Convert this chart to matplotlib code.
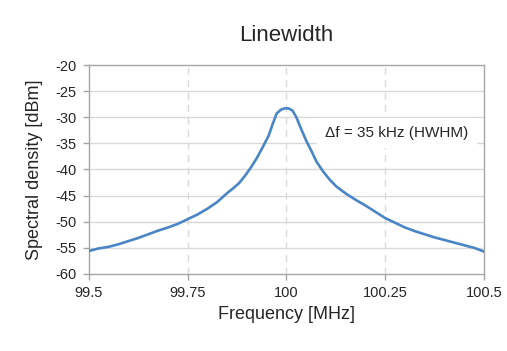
import matplotlib
matplotlib.use("Agg")
import matplotlib.pyplot as plt

plt.rcParams['font.family'] = ['Liberation Sans', 'DejaVu Sans']

freq_mhz = [99.500, 99.525, 99.550, 99.575, 99.600, 99.625, 99.650, 99.675, 99.700, 99.725,
            99.750, 99.775, 99.800, 99.825, 99.850, 99.865, 99.880, 99.895, 99.910, 99.925,
            99.940, 99.955, 99.965, 99.975, 99.985, 99.995, 100.005, 100.015, 100.025, 100.038,
            100.050, 100.064, 100.076, 100.093, 100.110, 100.127, 100.150, 100.175, 100.200, 100.225,
            100.250, 100.275, 100.300, 100.325, 100.350, 100.375, 100.400, 100.425, 100.450, 100.475,
            100.500]
density_dbm = [-55.6, -55.1, -54.8, -54.3, -53.7, -53.1, -52.4, -51.7, -51.1, -50.4,
               -49.5, -48.6, -47.5, -46.2, -44.5, -43.6, -42.6, -41.2, -39.6, -37.8,
               -35.7, -33.5, -31.3, -29.3, -28.6, -28.3, -28.3, -28.7, -30.0, -32.4,
               -34.5, -36.6, -38.5, -40.4, -42.0, -43.3, -44.6, -45.8, -46.9, -48.1,
               -49.3, -50.2, -51.1, -51.8, -52.4, -53.0, -53.5, -54.0, -54.5, -55.0,
               -55.7]

x_ticks = [99.5, 99.75, 100, 100.25, 100.5]
x_ticklabels = ['99.5', '99.75', '100', '100.25', '100.5']
y_ticks = [-20, -25, -30, -35, -40, -45, -50, -55, -60]
y_ticklabels = ['-20', '-25', '-30', '-35', '-40', '-45', '-50', '-55', '-60']

title = 'Linewidth'
x_label = 'Frequency [MHz]'
y_label = 'Spectral density [dBm]'
annotation = 'Δf = 35 kHz (HWHM)'

text_color = '#262626'
grid_color = '#d9d9d9'
spine_color = '#a6a6a6'
line_color = '#4a86c5'

fig = plt.figure(figsize=(5.07, 3.51), dpi=100)
ax = fig.add_axes([0.1755, 0.2194, 0.9546 - 0.1755, 0.8148 - 0.2194])

ax.plot(freq_mhz, density_dbm, color=line_color, linewidth=1.9, zorder=3)

ax.set_xlim(99.5, 100.5)
ax.set_ylim(-60, -20)
ax.set_xticks(x_ticks)
ax.set_xticklabels(x_ticklabels, fontsize=10.5, color=text_color)
ax.set_yticks(y_ticks)
ax.set_yticklabels(y_ticklabels, fontsize=10.5, color=text_color)

for y in y_ticks[1:-1]:
    ax.axhline(y, color=grid_color, linewidth=1.0, zorder=1)
for x in x_ticks[1:-1]:
    ax.axvline(x, color=grid_color, linewidth=1.0, linestyle=(0, (5, 4)), zorder=1)

for s in ax.spines.values():
    s.set_color(spine_color)
    s.set_linewidth(1.0)

ax.tick_params(axis='both', direction='out', length=4, width=1.0, color=spine_color, pad=5)

ax.set_title(title, fontsize=16, color=text_color, pad=17)
ax.set_xlabel(x_label, fontsize=13, color=text_color, labelpad=4)
ax.set_ylabel(y_label, fontsize=13, color=text_color, labelpad=9)

ax.text(100.0975, -33.0, annotation, fontsize=11, color=text_color, ha='left', va='center',
        zorder=4, bbox=dict(boxstyle='square,pad=0.55', facecolor='white', edgecolor='none'))

fig.savefig('out.png', dpi=100)
